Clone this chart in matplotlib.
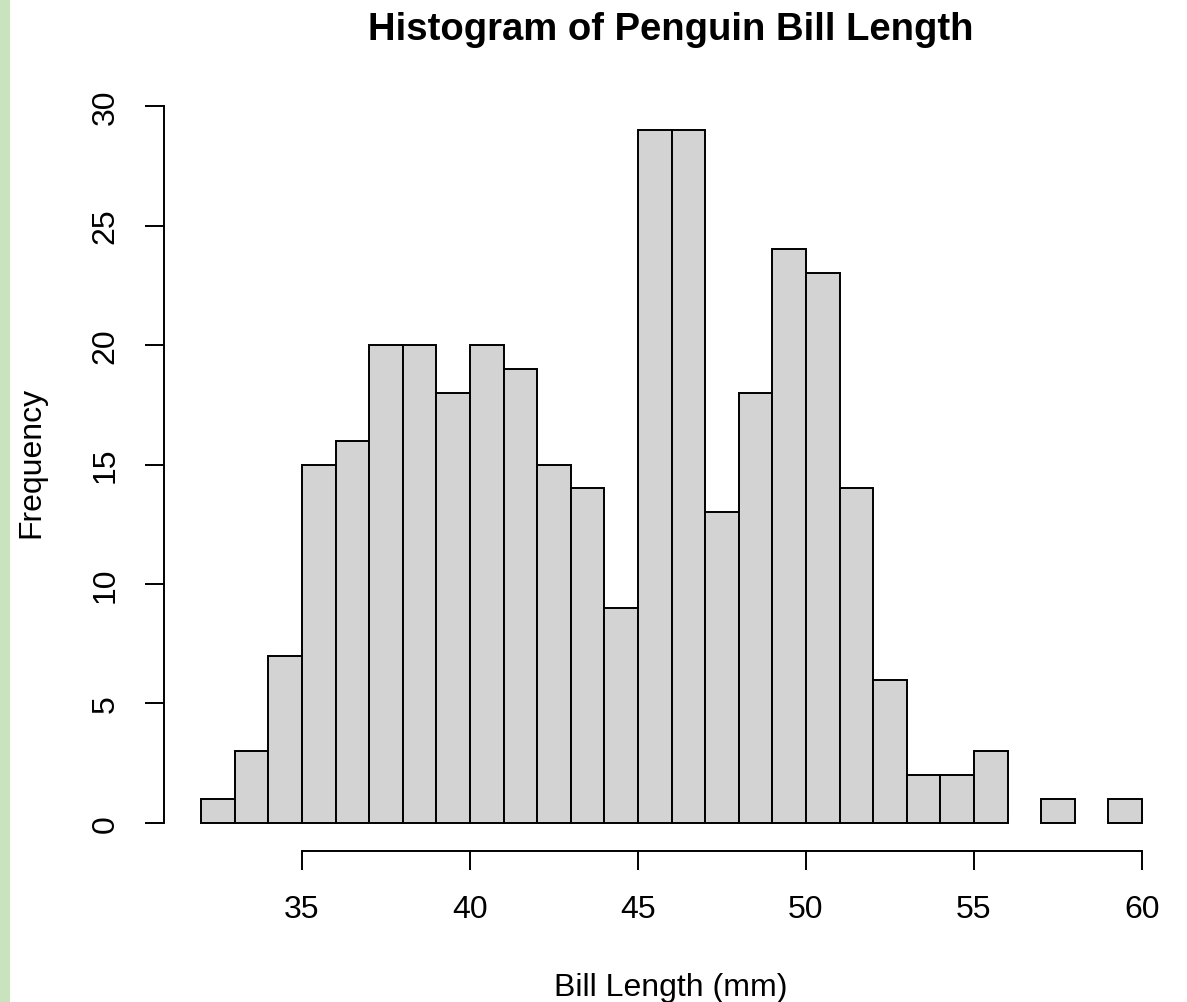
import numpy as np
import matplotlib.pyplot as plt
from matplotlib.patches import Rectangle

plt.rcParams['font.family'] = ['Liberation Sans', 'DejaVu Sans']

# bin edges (1 mm wide) and counts per bin
bin_left = np.arange(32, 60)
counts = [1, 3, 7, 15, 16, 20, 20, 18, 20, 19, 15, 14, 9, 29, 29,
          13, 18, 24, 23, 14, 6, 2, 2, 3, 0, 1, 0, 1]
x_ticks = [35, 40, 45, 50, 55, 60]
y_ticks = [0, 5, 10, 15, 20, 25, 30]

counts = np.array(counts)
keep = counts > 0

W, H = 1187, 1003
fig = plt.figure(figsize=(W / 100, H / 100), dpi=100)

# green stripe on the left edge
fig.patches.append(Rectangle((0, 0), 10 / W, 1, transform=fig.transFigure,
                             facecolor='#c8e3bd', edgecolor='none'))

ax = fig.add_axes([163.6 / W, 1 - 851.7 / H, 1016 / W, 748.5 / H])
ax.bar(bin_left[keep], counts[keep], width=1, align='edge',
       color='#d3d3d3', edgecolor='black', linewidth=1.4)

ax.set_xlim(30.88, 61.12)
ax.set_ylim(-1.16, 30.16)

for s in ['top', 'right']:
    ax.spines[s].set_visible(False)
ax.spines['left'].set_bounds(0, 30)
ax.spines['bottom'].set_bounds(35, 60)
for s in ['left', 'bottom']:
    ax.spines[s].set_linewidth(1.4)

ax.set_xticks(x_ticks)
ax.set_yticks(y_ticks)
ax.tick_params(axis='both', length=14, width=1.4, labelsize=23)
ax.tick_params(axis='x', pad=17)
ax.tick_params(axis='y', pad=17)
for lab in ax.get_yticklabels():
    lab.set_rotation(90)
    lab.set_va('center')

fig.text(671 / W, 1 - 40 / H, 'Histogram of Penguin Bill Length',
         ha='center', va='baseline', fontsize=27.5, fontweight='bold')
fig.text(671 / W, 1 - 996 / H, 'Bill Length (mm)', ha='center', va='baseline',
         fontsize=23)
fig.text(31 / W, 1 - 462 / H, 'Frequency', ha='center', va='center',
         rotation=90, fontsize=23)

fig.savefig('out.png', dpi=100)
